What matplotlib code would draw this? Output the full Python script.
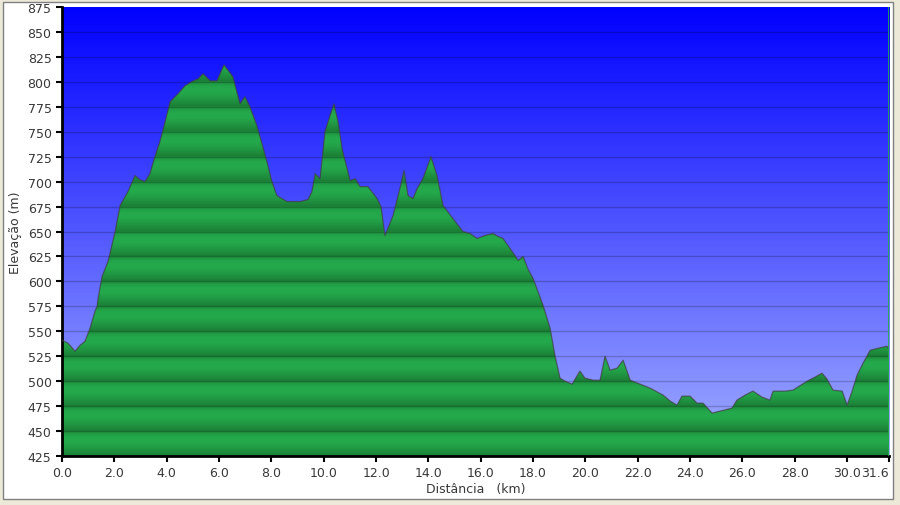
import numpy as np
import matplotlib
matplotlib.use("Agg")
import matplotlib.pyplot as plt
from matplotlib.patches import Rectangle

# elevation profile
dist_km = [0.00, 0.23, 0.50, 0.69, 0.88, 1.07, 1.26, 1.34, 1.38, 1.53, 1.76, 2.03,
           2.22, 2.52, 2.79, 2.98, 3.17, 3.36, 3.55, 3.74, 3.94, 4.13, 4.43, 4.70,
           5.01, 5.20, 5.39, 5.66, 5.92, 6.19, 6.53, 6.73, 6.80, 6.99, 7.18, 7.45,
           7.64, 7.83, 8.02, 8.21, 8.60, 9.09, 9.40, 9.55, 9.67, 9.86, 10.05, 10.24,
           10.39, 10.55, 10.70, 11.01, 11.20, 11.39, 11.69, 12.04, 12.19, 12.34, 12.65,
           12.91, 13.07, 13.22, 13.41, 13.57, 13.79, 14.10, 14.33, 14.56, 15.02, 15.32,
           15.59, 15.86, 16.16, 16.47, 16.66, 16.85, 17.12, 17.43, 17.62, 17.81, 18.00,
           18.38, 18.65, 18.84, 19.03, 19.22, 19.49, 19.79, 19.98, 20.29, 20.56, 20.75,
           20.94, 21.21, 21.44, 21.71, 22.09, 22.47, 22.97, 23.24, 23.50, 23.69, 24.00,
           24.26, 24.49, 24.84, 25.14, 25.60, 25.79, 26.10, 26.40, 26.75, 27.05, 27.17,
           27.63, 27.93, 28.47, 28.77, 29.04, 29.23, 29.46, 29.81, 30.00, 30.19, 30.38,
           30.61, 30.88, 31.18, 31.52, 31.60]
elev_m = [541, 538, 530, 536, 540, 553, 570, 575, 583, 605, 620, 650,
          676, 690, 706, 702, 700, 708, 725, 740, 760, 780, 788, 796,
          801, 803, 808, 801, 801, 817, 805, 785, 778, 785, 775, 756,
          738, 720, 700, 686, 680, 680, 682, 690, 708, 703, 750, 766,
          778, 760, 733, 701, 703, 695, 695, 683, 675, 646, 666,
          693, 711, 686, 683, 693, 703, 725, 706, 676, 660, 650,
          648, 643, 646, 648, 645, 643, 633, 621, 625, 612, 603,
          576, 553, 525, 503, 500, 497, 510, 503, 501, 501, 525,
          511, 513, 521, 501, 497, 493, 486, 480, 476, 485, 485,
          478, 478, 468, 470, 473, 481, 486, 490, 484, 481, 490,
          490, 491, 500, 504, 508, 502, 491, 490, 476, 490, 506,
          518, 531, 533, 535, 532]

x_ticks = [0, 2, 4, 6, 8, 10, 12, 14, 16, 18, 20, 22, 24, 26, 28, 30, 31.6]
y_ticks = list(range(425, 876, 25))
x_max = 31.6
y_min, y_max = 425, 875

fig = plt.figure(figsize=(9, 5.06), dpi=100, facecolor="#ECE9D8")
# white panel behind the chart
fig.patches.append(Rectangle((0.003, 0.012), 0.989, 0.982, transform=fig.transFigure,
                             facecolor="white", edgecolor="#808080", linewidth=1, zorder=-5))

ax = fig.add_axes([0.0689, 0.0968, 0.9189, 0.8874])
ax.set_zorder(2)
ax.set_xlim(0, x_max)
ax.set_ylim(y_min, y_max)

# sky gradient: pure blue at top to pale periwinkle at bottom
t = np.linspace(0, 1, 256)[:, None]
top = np.array([0, 0, 255]) / 255
bot = np.array([162, 174, 255]) / 255
sky = (top * (1 - t) + bot * t)[:, None, :].repeat(2, axis=1)
ax.imshow(sky, extent=[0, x_max, y_min, y_max], aspect="auto", origin="upper", zorder=0)

# green fill, darker just above each grid line, lighter higher in the band
yy = np.linspace(y_min, y_max, 1800)
phase = ((yy - y_min) % 25) / 25
shade = np.sin(np.pi * phase ** 1.6) ** 0.7
light = np.array([36, 170, 76]) / 255
dark = np.array([28, 128, 55]) / 255
green = (dark * (1 - shade[:, None]) + light * shade[:, None])[:, None, :].repeat(2, axis=1)
poly = ax.fill_between(dist_km, elev_m, y_min, facecolor="none", edgecolor="none", zorder=1)
im = ax.imshow(green, extent=[0, x_max, y_min, y_max], aspect="auto", origin="lower", zorder=1)
im.set_clip_path(poly.get_paths()[0], transform=ax.transData)

ax.plot(dist_km, elev_m, color="#404040", linewidth=0.9, alpha=0.7, zorder=3)
ax.axvline(x_max, color="#20b040", linewidth=1.2, zorder=3)

for y in y_ticks[1:-1]:
    ax.axhline(y, color="black", alpha=0.2, linewidth=1, zorder=2)

ax.set_xticks(x_ticks)
ax.set_xticklabels(["%.1f" % v for v in x_ticks])
ax.get_xticklabels()[-1].set_ha("right")
ax.set_yticks(y_ticks)
ax.tick_params(labelsize=9, length=4, width=1.5, direction="out",
               colors="black", labelcolor="#383838")

for side in ["top", "right"]:
    ax.spines[side].set_visible(False)
for side in ["left", "bottom"]:
    ax.spines[side].set_linewidth(2)
    ax.spines[side].set_color("black")

ax.set_xlabel("Distância   (km)", fontsize=9, color="#383838", labelpad=2)
ax.set_ylabel("Elevação (m)", fontsize=9, color="#383838", labelpad=4)

fig.savefig("out.png", dpi=100, facecolor=fig.get_facecolor())
